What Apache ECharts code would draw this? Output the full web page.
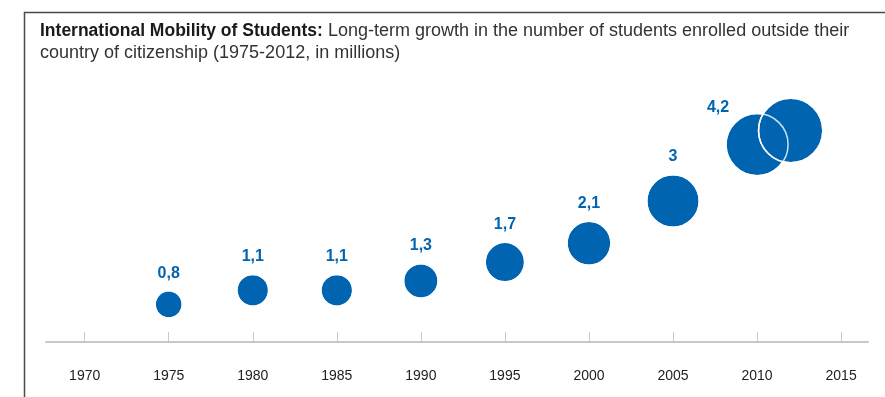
<!DOCTYPE html>
<html>
<head>
<meta charset="utf-8">
<script src="https://cdn.jsdelivr.net/npm/echarts@6/dist/echarts.min.js"></script>
<style>
  html, body { margin: 0; padding: 0; background: #ffffff; }
  #chart { width: 885px; height: 397px; }
</style>
</head>
<body>
<div id="chart"></div>
<script>
// Students enrolled outside their country of citizenship, in millions
const years = [1975, 1980, 1985, 1990, 1995, 2000, 2005, 2010, 2012];
const students = [0.8, 1.1, 1.1, 1.3, 1.7, 2.1, 3.0, 4.2, 4.5];
// Which points carry a value label
const labelled = [true, true, true, true, true, true, true, true, false];
// Year ticks shown along the timeline
const tickYears = [1970, 1975, 1980, 1985, 1990, 1995, 2000, 2005, 2010, 2015];

const BLUE = '#0064b1';
const FONT = '"Liberation Sans", Arial, Helvetica, sans-serif';

// Bubble area is proportional to the value
const bubbleSize = (v) => 30.3 * Math.sqrt(v);
const fmt = (v) => String(v).replace('.', ',');

const points = years.map((y, i) => {
  const item = { value: [y, students[i]] };
  if (!labelled[i]) {
    item.label = { show: false };
  } else if (y === 2010) {
    item.label = { position: 'inside', offset: [-39, -37] };
  }
  return item;
});

const chart = echarts.init(document.getElementById('chart'), null, { renderer: 'canvas' });

chart.setOption({
  backgroundColor: '#ffffff',
  animation: false,
  title: {
    left: 40,
    top: 20,
    padding: 0,
    text: '{b|International Mobility of Students:} {n|Long-term growth in the number of students enrolled outside their}\n{n|country of citizenship (1975-2012, in millions)}',
    textStyle: {
      fontWeight: 'normal',
      rich: {
        b: { fontFamily: FONT, fontSize: 17.5, fontWeight: 'bold', color: '#1a1a1a', lineHeight: 22 },
        n: { fontFamily: FONT, fontSize: 18, fontWeight: 'normal', color: '#333333', lineHeight: 22 }
      }
    }
  },
  graphic: [
    {
      type: 'polyline',
      shape: { points: [[24.5, 397], [24.5, 12.5], [885, 12.5]] },
      style: { stroke: '#4a4a4a', lineWidth: 1.5, fill: null },
      silent: true
    }
  ],
  grid: { left: 46, right: 17, top: 107, bottom: 55 },
  xAxis: {
    type: 'value',
    min: 1967.7,
    max: 2016.6,
    splitLine: { show: false },
    axisLine: { show: true, lineStyle: { color: '#c8c8c8', width: 2 } },
    axisTick: {
      show: true,
      inside: true,
      length: 10,
      customValues: tickYears,
      lineStyle: { color: '#c8c8c8', width: 1 }
    },
    axisLabel: {
      customValues: tickYears,
      margin: 27,
      color: '#222222',
      fontFamily: FONT,
      fontSize: 14,
      formatter: (v) => String(v)
    }
  },
  yAxis: {
    type: 'value',
    min: 0,
    max: 5,
    show: false,
    splitLine: { show: false }
  },
  series: [
    {
      type: 'scatter',
      data: points,
      symbol: 'circle',
      symbolSize: (val) => bubbleSize(val[1]),
      itemStyle: { color: BLUE, borderColor: '#ffffff', borderWidth: 1.5, opacity: 1 },
      label: {
        show: true,
        position: 'top',
        distance: 9,
        color: BLUE,
        fontFamily: FONT,
        fontSize: 16,
        fontWeight: 'bold',
        formatter: (p) => fmt(p.value[1])
      },
      z: 2
    },
    {
      // outline pass so overlapping bubbles keep both white rims
      type: 'scatter',
      data: years.map((y, i) => [y, students[i]]),
      symbol: 'circle',
      symbolSize: (val) => bubbleSize(val[1]),
      itemStyle: { color: 'rgba(0,0,0,0)', borderColor: '#ffffff', borderWidth: 1.5 },
      label: { show: false },
      silent: true,
      z: 3
    }
  ]
});
</script>
</body>
</html>
